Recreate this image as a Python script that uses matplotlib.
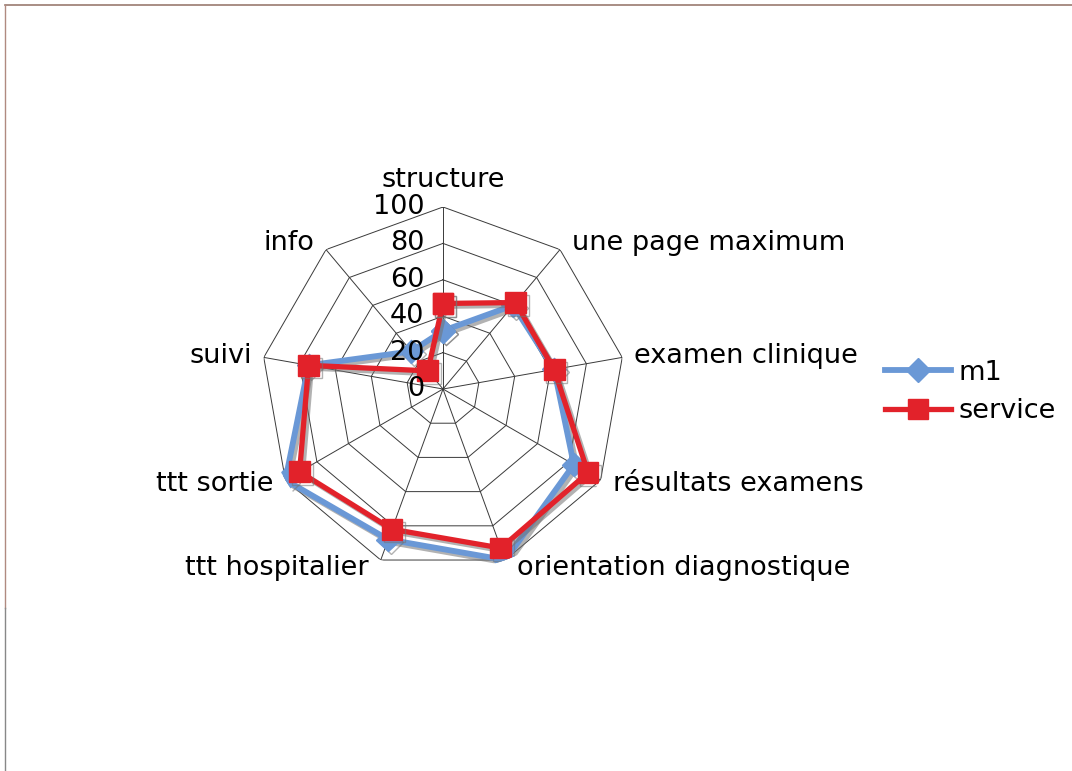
import numpy as np
import matplotlib
matplotlib.use('Agg')
import matplotlib.pyplot as plt
import matplotlib.lines as mlines
import matplotlib.patheffects as pe

''' radar chart: m1 vs service '''

categories = ['structure', 'une page maximum', 'examen clinique',
              'résultats examens', 'orientation diagnostique',
              'ttt hospitalier', 'ttt sortie', 'suivi', 'info']
m1 = [32, 60, 62, 83, 100, 88, 100, 75, 27]
service = [47, 62, 62, 92, 93, 82, 91, 75, 13]
rticks = [0, 20, 40, 60, 80, 100]
seriesNames = ['m1', 'service']

plt.rcParams['font.family'] = 'DejaVu Sans'
fs = 19.5

fig = plt.figure(figsize=(10.72, 7.71), dpi=100)

# center (443,389) px, radius ~182 px
cx, cy, R = 443/1072., 1 - 389/771., 182.
ax = fig.add_axes([cx - R/1072., cy - R/771., 2*R/1072., 2*R/771.],
                  projection='polar')
ax.set_theta_zero_location('N')
ax.set_theta_direction(-1)
ax.set_ylim(0, 100)
ax.axis('off')

n = len(categories)
theta = np.arange(n) * 2*np.pi/n
thetaC = np.append(theta, theta[0])

# polygon grid + spokes
for r in rticks[1:]:
    ax.plot(thetaC, [r]*(n+1), color='#3a3a3a', lw=0.7, zorder=1)
for t in theta:
    ax.plot([t, t], [0, 100], color='#3a3a3a', lw=0.7, zorder=1)

# radial labels left of the top spoke (drawn over the series)
for r in rticks:
    ax.annotate(str(r), xy=(0, r), xytext=(-19, 0), textcoords='offset pixels',
                ha='right', va='center', fontsize=fs, zorder=10)

# category labels
for t, lab in zip(theta, categories):
    s, c = np.sin(t), np.cos(t)
    if abs(s) < 0.1:
        ax.annotate(lab, xy=(t, 100), xytext=(0, 14), textcoords='offset pixels',
                    ha='center', va='bottom', fontsize=fs)
    else:
        ha = 'left' if s > 0 else 'right'
        ax.annotate(lab, xy=(t, 100), xytext=(12*np.sign(s), 8*c),
                    textcoords='offset pixels', ha=ha, va='center', fontsize=fs)

shadow = [pe.SimpleLineShadow(offset=(2, -2), shadow_color='0.45', alpha=0.55),
          pe.Normal()]

blue = '#6a98d6'
red = '#e2222a'
l1, = ax.plot(thetaC, np.append(m1, m1[0]), color=blue, lw=4.2, marker='D',
              ms=12, mfc=blue, mec=blue, zorder=3, path_effects=shadow)
l2, = ax.plot(thetaC, np.append(service, service[0]), color=red, lw=3.8,
              marker='s', ms=15, mfc=red, mec=red, zorder=4, path_effects=shadow)

h1 = mlines.Line2D([], [], color=blue, lw=4.2, marker='D', ms=12)
h2 = mlines.Line2D([], [], color=red, lw=3.8, marker='s', ms=15)
fig.legend([h1, h2], seriesNames, loc='center left',
           bbox_to_anchor=(885/1072., 1 - 392/771.), frameon=False,
           fontsize=fs, handlelength=2.45, handletextpad=0.25,
           labelspacing=0.45, borderpad=0, borderaxespad=0)

# page frame (top and left edges)
fig.add_artist(mlines.Line2D([5/1072., 1], [1 - 4.5/771.]*2, color='#9a7a70', lw=1.2))
fig.add_artist(mlines.Line2D([5/1072.]*2, [1 - 4.5/771., 1 - 608/771.], color='#b08a80', lw=1.0))
fig.add_artist(mlines.Line2D([5/1072.]*2, [1 - 608/771., 0], color='#888888', lw=1.0))

plt.savefig('out.png', dpi=100)
